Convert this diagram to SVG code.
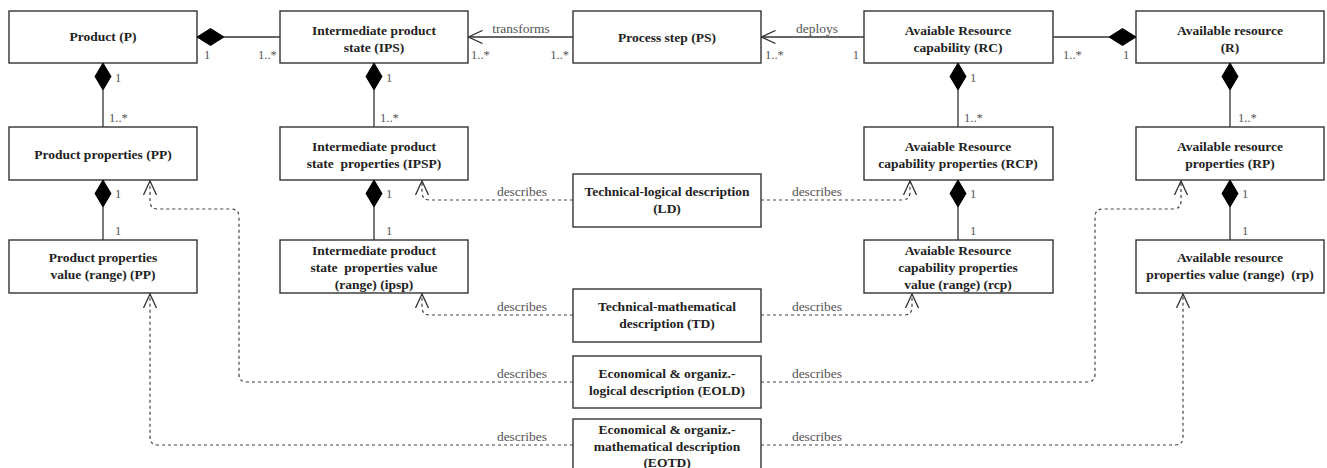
<svg xmlns="http://www.w3.org/2000/svg" width="1327" height="468" viewBox="0 0 1327 468">
<style>
.box{fill:#fff;stroke:#333;stroke-width:1.4}
.t{font-family:"Liberation Serif","Times New Roman",serif;font-weight:bold;font-size:13.5px;fill:#222;text-anchor:middle;white-space:pre}
.lbl{font-family:"Liberation Serif","Times New Roman",serif;font-size:13.5px;fill:#555;text-anchor:middle}
.m{font-family:"Liberation Serif","Times New Roman",serif;font-size:12.5px;fill:#555}
.ln{fill:none;stroke:#333;stroke-width:1.3}
.dl{fill:none;stroke:#444;stroke-width:1.2;stroke-dasharray:3,3}
.dia{fill:#000;stroke:#000;stroke-width:1}
</style>
<defs>
<marker id="open" viewBox="0 0 15 14" refX="14" refY="7" markerWidth="15" markerHeight="14" markerUnits="userSpaceOnUse" orient="auto">
<path d="M0,0.5 L14,7 L0,13.5" fill="none" stroke="#333" stroke-width="1.3"/>
</marker>
</defs>

<g id="P"><rect class="box" x="9" y="11" width="188" height="52"/><text class="t" x="103" y="41">Product (P)</text></g>
<g id="IPS"><rect class="box" x="280" y="11" width="188" height="52"/><text class="t" x="374" y="35">Intermediate product</text><text class="t" x="374" y="52">state (IPS)</text></g>
<g id="PS"><rect class="box" x="573" y="11" width="188" height="52"/><text class="t" x="667" y="42">Process step (PS)</text></g>
<g id="RC"><rect class="box" x="864" y="11" width="189" height="52"/><text class="t" x="958" y="35">Avaiable Resource</text><text class="t" x="958" y="52">capability (RC)</text></g>
<g id="R"><rect class="box" x="1136" y="11" width="188" height="52"/><text class="t" x="1230" y="35">Available resource</text><text class="t" x="1230" y="52">(R)</text></g>

<g id="PP"><rect class="box" x="9" y="127" width="188" height="53"/><text class="t" x="103" y="159">Product properties (PP)</text></g>
<g id="IPSP"><rect class="box" x="280" y="127" width="188" height="53"/><text class="t" x="374" y="151">Intermediate product</text><text class="t" x="374" y="168">state  properties (IPSP)</text></g>
<g id="RCP"><rect class="box" x="864" y="127" width="189" height="53"/><text class="t" x="958" y="151">Avaiable Resource</text><text class="t" x="958" y="168">capability properties (RCP)</text></g>
<g id="RP"><rect class="box" x="1136" y="127" width="188" height="53"/><text class="t" x="1230" y="151">Available resource</text><text class="t" x="1230" y="168">properties (RP)</text></g>

<g id="PPV"><rect class="box" x="9" y="240" width="188" height="53"/><text class="t" x="103" y="262">Product properties</text><text class="t" x="103" y="279">value (range) (PP)</text></g>
<g id="IPSPV"><rect class="box" x="280" y="240" width="188" height="53"/><text class="t" x="374" y="255">Intermediate product</text><text class="t" x="374" y="272">state  properties value</text><text class="t" x="374" y="289">(range) (ipsp)</text></g>
<g id="RCPV"><rect class="box" x="864" y="240" width="189" height="53"/><text class="t" x="958" y="255">Avaiable Resource</text><text class="t" x="958" y="272">capability properties</text><text class="t" x="958" y="289">value (range) (rcp)</text></g>
<g id="RPV"><rect class="box" x="1136" y="240" width="188" height="53"/><text class="t" x="1230" y="262">Available resource</text><text class="t" x="1230" y="279">properties value (range)  (rp)</text></g>

<g id="LD"><rect class="box" x="573" y="174" width="188" height="53"/><text class="t" x="667" y="196">Technical-logical description</text><text class="t" x="667" y="213">(LD)</text></g>
<g id="TD"><rect class="box" x="573" y="289" width="188" height="53"/><text class="t" x="667" y="311">Technical-mathematical</text><text class="t" x="667" y="328">description (TD)</text></g>
<g id="EOLD"><rect class="box" x="573" y="356" width="188" height="52"/><text class="t" x="667" y="378">Economical &amp; organiz.-</text><text class="t" x="667" y="395">logical description (EOLD)</text></g>
<g id="EOTD"><rect class="box" x="573" y="419" width="188" height="60"/><text class="t" x="667" y="434">Economical &amp; organiz.-</text><text class="t" x="667" y="451">mathematical description</text><text class="t" x="667" y="467">(EOTD)</text></g>

<g id="connectors">
<polygon class="dia" points="197,37 210.5,28.5 224,37 210.5,45.5"/>
<line class="ln" x1="224" y1="37" x2="280" y2="37"/>
<text class="m" x="204" y="59">1</text><text class="m" x="258" y="59">1..*</text>
<line class="ln" x1="573" y1="37" x2="468.5" y2="37" marker-end="url(#open)"/>
<text class="lbl" x="521" y="33">transforms</text>
<text class="m" x="471" y="59">1..*</text><text class="m" x="569" y="59" text-anchor="end">1..*</text>
<line class="ln" x1="864" y1="37" x2="761.5" y2="37" marker-end="url(#open)"/>
<text class="lbl" x="817" y="33">deploys</text>
<text class="m" x="765" y="59">1..*</text><text class="m" x="859" y="59" text-anchor="end">1</text>
<line class="ln" x1="1053" y1="37" x2="1109" y2="37"/>
<polygon class="dia" points="1109,37 1122.5,28.5 1136,37 1122.5,45.5"/>
<text class="m" x="1063" y="59">1..*</text><text class="m" x="1123" y="59">1</text>

<polygon class="dia" points="103,63 111,76.5 103,90 95,76.5"/><line class="ln" x1="103" y1="90" x2="103" y2="127"/>
<text class="m" x="115" y="82">1</text><text class="m" x="109" y="122">1..*</text>
<polygon class="dia" points="374,63 382,76.5 374,90 366,76.5"/><line class="ln" x1="374" y1="90" x2="374" y2="127"/>
<text class="m" x="386" y="82">1</text><text class="m" x="380" y="122">1..*</text>
<polygon class="dia" points="958,63 966,76.5 958,90 950,76.5"/><line class="ln" x1="958" y1="90" x2="958" y2="127"/>
<text class="m" x="970" y="82">1</text><text class="m" x="964" y="122">1..*</text>
<polygon class="dia" points="1230,63 1238,76.5 1230,90 1222,76.5"/><line class="ln" x1="1230" y1="90" x2="1230" y2="127"/>
<text class="m" x="1238" y="122">1..*</text>

<polygon class="dia" points="103,180 111,193.5 103,207 95,193.5"/><line class="ln" x1="103" y1="207" x2="103" y2="240"/>
<text class="m" x="115" y="198">1</text><text class="m" x="115" y="235">1</text>
<polygon class="dia" points="374,180 382,193.5 374,207 366,193.5"/><line class="ln" x1="374" y1="207" x2="374" y2="240"/>
<text class="m" x="386" y="198">1</text><text class="m" x="386" y="235">1</text>
<polygon class="dia" points="958,180 966,193.5 958,207 950,193.5"/><line class="ln" x1="958" y1="207" x2="958" y2="240"/>
<text class="m" x="970" y="198">1</text><text class="m" x="970" y="235">1</text>
<polygon class="dia" points="1230,180 1238,193.5 1230,207 1222,193.5"/><line class="ln" x1="1230" y1="207" x2="1230" y2="240"/>
<text class="m" x="1242" y="198">1</text><text class="m" x="1242" y="235">1</text>

<path class="dl" d="M573,200 H430 Q422,200 422,192 V181" marker-end="url(#open)"/>
<path class="dl" d="M761,200 H902 Q910,200 910,192 V181" marker-end="url(#open)"/>
<text class="lbl" x="522" y="196">describes</text><text class="lbl" x="817" y="196">describes</text>

<path class="dl" d="M573,315 H430 Q422,315 422,307 V294" marker-end="url(#open)"/>
<path class="dl" d="M761,315 H904 Q912,315 912,307 V294" marker-end="url(#open)"/>
<text class="lbl" x="522" y="311">describes</text><text class="lbl" x="817" y="311">describes</text>

<path class="dl" d="M573,382 H247 Q239,382 239,374 V217 Q239,209 231,209 H158 Q150,209 150,201 V181" marker-end="url(#open)"/>
<path class="dl" d="M761,382 H1087 Q1095,382 1095,374 V217 Q1095,209 1103,209 H1173 Q1181,209 1181,201 V181" marker-end="url(#open)"/>
<text class="lbl" x="522" y="378">describes</text><text class="lbl" x="817" y="378">describes</text>

<path class="dl" d="M573,445 H158 Q150,445 150,437 V294" marker-end="url(#open)"/>
<path class="dl" d="M761,445 H1175 Q1183,445 1183,437 V294" marker-end="url(#open)"/>
<text class="lbl" x="522" y="441">describes</text><text class="lbl" x="817" y="441">describes</text>
</g>
</svg>
